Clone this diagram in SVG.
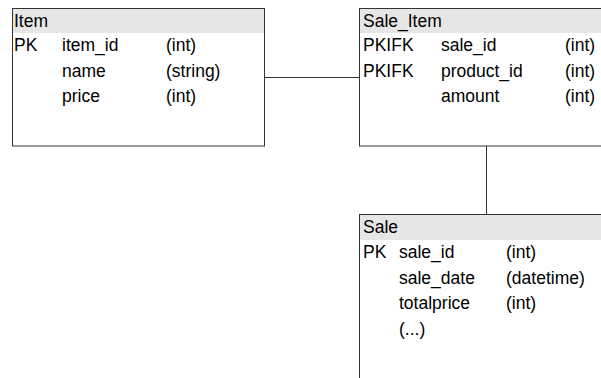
<svg xmlns="http://www.w3.org/2000/svg" width="601" height="378" viewBox="0 0 601 378">
  <style>
    .box { fill: #ffffff; stroke: #333333; stroke-width: 1; }
    .head { fill: #e6e6e6; stroke: none; }
    .edge { fill: none; stroke: #333333; stroke-width: 1; }
    text { font-family: "Liberation Sans", Arial, sans-serif; font-size: 17.5px; fill: #000000; }
  </style>
  <rect width="601" height="378" fill="#ffffff"/>

  <!-- relationships -->
  <g id="connectors">
    <line class="edge" x1="265" y1="77.5" x2="360" y2="77.5"/>
    <line class="edge" x1="486.5" y1="146" x2="486.5" y2="214"/>
  </g>

  <!-- Item table -->
  <g id="item">
    <rect class="box" x="12.5" y="8.5" width="252" height="137.5"/>
    <rect class="head" x="13" y="9" width="251" height="24"/>
    <text x="14" y="27">Item</text>
    <text x="14" y="51">PK</text>
    <text x="62" y="51">item_id</text>
    <text x="166" y="51">(int)</text>
    <text x="62" y="76.5">name</text>
    <text x="166" y="76.5">(string)</text>
    <text x="62" y="102">price</text>
    <text x="166" y="102">(int)</text>
  </g>

  <!-- Sale_Item table -->
  <g id="sale_item">
    <rect class="box" x="359.5" y="8.5" width="260" height="137.5"/>
    <rect class="head" x="360" y="9" width="250" height="24"/>
    <text x="363" y="27">Sale_Item</text>
    <text x="363" y="51">PKIFK</text>
    <text x="441" y="51">sale_id</text>
    <text x="565" y="51">(int)</text>
    <text x="363" y="76.5">PKIFK</text>
    <text x="441" y="76.5">product_id</text>
    <text x="565" y="76.5">(int)</text>
    <text x="441" y="102">amount</text>
    <text x="565" y="102">(int)</text>
  </g>

  <!-- Sale table -->
  <g id="sale">
    <rect class="box" x="359.5" y="214.5" width="260" height="180"/>
    <rect class="head" x="360" y="215" width="250" height="25"/>
    <text x="363" y="233">Sale</text>
    <text x="363" y="258">PK</text>
    <text x="399" y="258">sale_id</text>
    <text x="506" y="258">(int)</text>
    <text x="399" y="283.5">sale_date</text>
    <text x="506" y="283.5">(datetime)</text>
    <text x="399" y="309">totalprice</text>
    <text x="506" y="309">(int)</text>
    <text x="399" y="334.5">(...)</text>
  </g>
</svg>
